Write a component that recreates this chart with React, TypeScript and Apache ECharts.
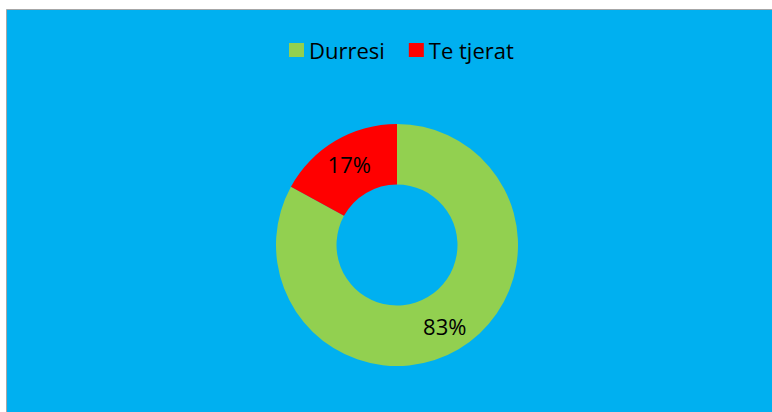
import React, { useEffect, useRef } from "react";
import * as echarts from "echarts";

const categories = ["Durresi", "Te tjerat"];
const values = [83, 17];
const colors = ["#92D050", "#FF0000"];

export default function App() {
  const ref = useRef<HTMLDivElement>(null);
  useEffect(() => {
    if (!ref.current) return;
    const chart = echarts.init(ref.current, null, { renderer: "svg" });
    chart.setOption({
      animation: false,
      backgroundColor: "#FFFFFF",
      graphic: [
        {
          type: "rect",
          silent: true,
          z: -10,
          shape: { x: 6.5, y: 9.5, width: 800, height: 500 },
          style: { fill: "#00B0F0", stroke: "#A6A6A6", lineWidth: 1 },
        },
      ],
      legend: {
        left: 284,
        top: 33,
        itemWidth: 15,
        itemHeight: 14,
        itemGap: 24,
        icon: "rect",
        textStyle: {
          fontFamily: "Open Sans",
          fontSize: 22,
          color: "#000000",
          lineHeight: 24,
        },
        data: categories,
      },
      series: [
        {
          type: "pie",
          center: [397, 245],
          radius: [60.5, 121],
          startAngle: 90,
          clockwise: true,
          label: {
            show: true,
            position: "inside",
            formatter: "{d}%",
            fontFamily: "Open Sans",
            fontSize: 22,
            color: "#000000",
          },
          labelLine: { show: false },
          emphasis: { disabled: true },
          itemStyle: { borderWidth: 0 },
          data: categories.map((name, i) => ({
            name,
            value: values[i],
            itemStyle: { color: colors[i] },
          })),
        },
      ],
    });
    return () => chart.dispose();
  }, []);
  return (
    <div
      ref={ref}
      style={{ position: "absolute", left: 0, top: 0, width: 772, height: 412 }}
    />
  );
}
